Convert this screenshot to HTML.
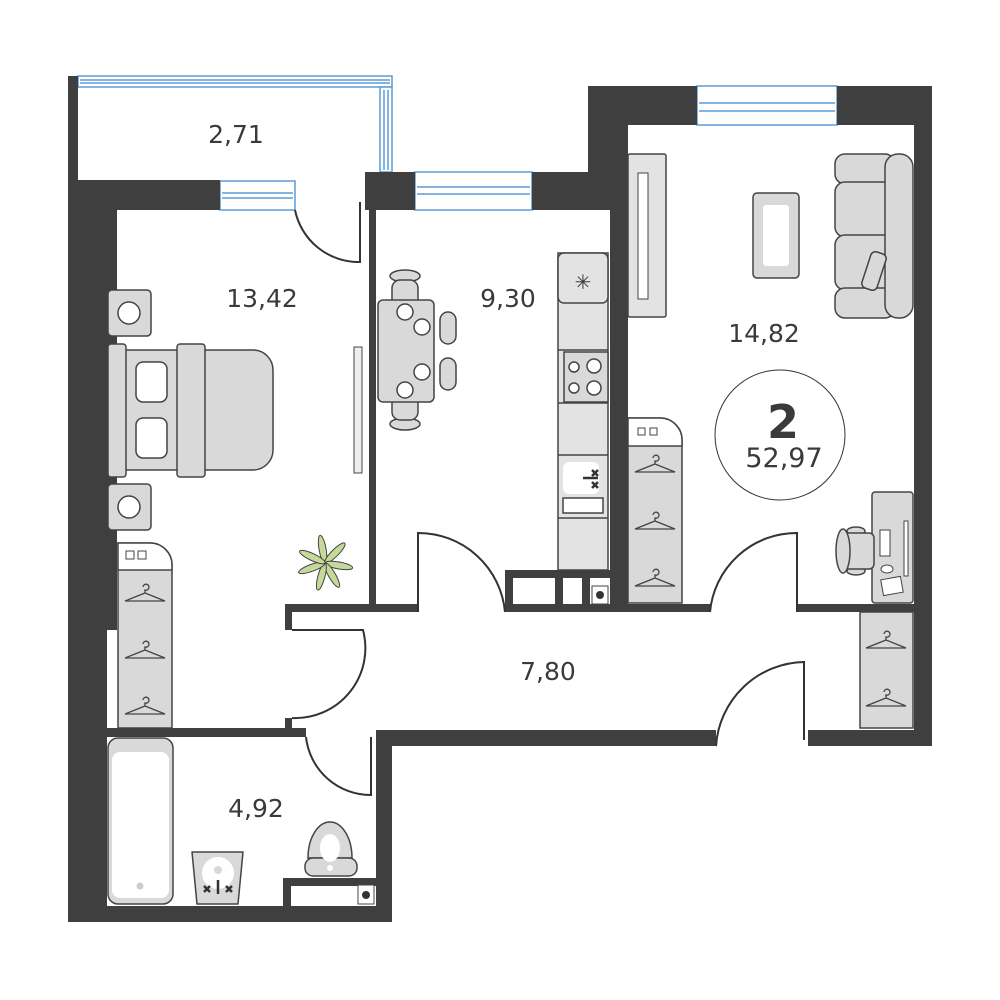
<!DOCTYPE html>
<html><head><meta charset="utf-8"><style>
html,body{margin:0;padding:0;background:#fff}
svg{display:block}
text{font-family:"DejaVu Sans","Liberation Sans",sans-serif;fill:#3a3a3a}
</style></head><body>
<svg width="1000" height="1000" viewBox="0 0 1000 1000" xmlns="http://www.w3.org/2000/svg">
<defs>
<g id="hanger" fill="none" stroke="#444" stroke-width="1.3">
<path d="M-2,-8 a3,3 0 1 1 2,3 v3 M0,-2 l20,8 h-40 z"/>
</g>
<ellipse id="leaf" cx="0" cy="-14" rx="3.5" ry="14" fill="#c5d99a" stroke="#444" stroke-width="1"/>
</defs>
<!-- windows -->
<g fill="#fff" stroke="#5b9bd5" stroke-width="1.5">
<rect x="78" y="76" width="314" height="11"/>
<line x1="80" y1="80" x2="390" y2="80"/><line x1="80" y1="83" x2="390" y2="83"/>
<rect x="380" y="87" width="12" height="85"/>
<line x1="384" y1="90" x2="384" y2="170"/><line x1="388" y1="90" x2="388" y2="170"/>
<rect x="220" y="181" width="75" height="29"/>
<line x1="222" y1="193" x2="293" y2="193"/><line x1="222" y1="198" x2="293" y2="198"/>
<rect x="415" y="172" width="117" height="38"/>
<line x1="417" y1="187" x2="530" y2="187"/><line x1="417" y1="194" x2="530" y2="194"/>
<rect x="697" y="86" width="140" height="39"/>
<line x1="699" y1="103" x2="835" y2="103"/><line x1="699" y1="111" x2="835" y2="111"/>
</g>
<!-- walls -->
<g fill="#3f3f3f">
<rect x="68" y="76" width="10" height="110"/>
<rect x="68" y="180" width="152" height="30"/>
<rect x="68" y="180" width="49" height="450"/>
<rect x="68" y="620" width="39" height="302"/>
<rect x="68" y="906" width="324" height="16"/>
<rect x="365" y="172" width="50" height="38"/>
<rect x="532" y="172" width="78" height="38"/>
<rect x="588" y="86" width="40" height="124"/>
<rect x="588" y="86" width="109" height="39"/>
<rect x="837" y="86" width="95" height="39"/>
<rect x="914" y="86" width="18" height="660"/>
<rect x="369" y="210" width="7" height="400"/>
<rect x="610" y="172" width="18" height="440"/>
<rect x="285" y="604" width="133" height="8"/>
<rect x="285" y="604" width="7" height="26"/>
<rect x="285" y="718" width="7" height="12"/>
<rect x="505" y="604" width="205" height="8"/>
<rect x="797" y="604" width="117" height="8"/>
<rect x="505" y="570" width="105" height="8"/>
<rect x="505" y="570" width="8" height="42"/>
<rect x="555" y="570" width="8" height="42"/>
<rect x="582" y="570" width="8" height="42"/>
<rect x="107" y="728" width="199" height="9"/>
<rect x="376" y="730" width="340" height="16"/>
<rect x="808" y="730" width="124" height="16"/>
<rect x="376" y="730" width="16" height="192"/>
<rect x="283" y="878" width="93" height="8"/>
<rect x="283" y="878" width="8" height="28"/>
</g>
<rect x="592" y="586" width="16" height="18" fill="#fff" stroke="#444"/>
<circle cx="600" cy="595" r="4" fill="#333"/>
<rect x="358" y="885" width="16" height="19" fill="#fff" stroke="#444"/>
<circle cx="366" cy="895" r="4" fill="#333"/>
<!-- doors -->
<g fill="none" stroke="#333" stroke-width="2">
<path d="M295,210 A65,65 0 0 0 360,262 V202"/>
<path d="M292,630 H363 A70,70 0 0 1 292,718"/>
<path d="M306,737 A65,65 0 0 0 371,795 V737"/>
<path d="M418,612 V533 A87,87 0 0 1 505,612"/>
<path d="M710,612 A87,87 0 0 1 797,533 V612"/>
<path d="M716,746 A90,90 0 0 1 804,662 V740"/>
</g>
<!-- bedroom furniture -->
<g stroke="#444" stroke-width="1.5">
<rect x="108" y="290" width="43" height="46" rx="4" fill="#d9d9d9"/>
<circle cx="129" cy="313" r="11" fill="#fff"/>
<rect x="108" y="484" width="43" height="46" rx="4" fill="#d9d9d9"/>
<circle cx="129" cy="507" r="11" fill="#fff"/>
<path d="M108,350 H253 a20,20 0 0 1 20,20 V450 a20,20 0 0 1 -20,20 H108 Z" fill="#d9d9d9"/>
<rect x="108" y="344" width="18" height="133" rx="3" fill="#d9d9d9"/>
<rect x="177" y="344" width="28" height="133" rx="3" fill="#d9d9d9"/>
<rect x="136" y="362" width="31" height="40" rx="7" fill="#fff"/>
<rect x="136" y="418" width="31" height="40" rx="7" fill="#fff"/>
<path d="M118,543 H150 a22,22 0 0 1 22,22 V728 H118 Z" fill="#d9d9d9"/>
<path d="M118,570 V543 H150 a22,22 0 0 1 22,22 V570 Z" fill="#fff"/>
<rect x="126" y="551" width="8" height="8" fill="#fff" stroke-width="1"/>
<rect x="138" y="551" width="8" height="8" fill="#fff" stroke-width="1"/>
<rect x="354" y="347" width="8" height="126" fill="#eee" stroke-width="1"/>
</g>
<use href="#hanger" x="145" y="595"/><use href="#hanger" x="145" y="652"/><use href="#hanger" x="145" y="708"/>
<!-- plant -->
<g transform="translate(325,563)">
<circle r="8" fill="#333"/>
<use href="#leaf" transform="rotate(-10)"/><use href="#leaf" transform="rotate(45)"/>
<use href="#leaf" transform="rotate(100)"/><use href="#leaf" transform="rotate(150)"/>
<use href="#leaf" transform="rotate(195)"/><use href="#leaf" transform="rotate(250)"/>
<use href="#leaf" transform="rotate(295)"/>
</g>
<!-- kitchen -->
<g stroke="#444" stroke-width="1.5">
<ellipse cx="405" cy="276" rx="15" ry="6" fill="#d9d9d9"/>
<ellipse cx="405" cy="424" rx="15" ry="6" fill="#d9d9d9"/>
<rect x="392" y="280" width="26" height="140" rx="8" fill="#d9d9d9"/>
<rect x="440" y="312" width="16" height="32" rx="8" fill="#d9d9d9"/>
<rect x="440" y="358" width="16" height="32" rx="8" fill="#d9d9d9"/>
<rect x="378" y="300" width="56" height="102" rx="5" fill="#d9d9d9"/>
<circle cx="405" cy="312" r="8" fill="#fff"/><circle cx="422" cy="327" r="8" fill="#fff"/>
<circle cx="422" cy="372" r="8" fill="#fff"/><circle cx="405" cy="390" r="8" fill="#fff"/>
<rect x="558" y="253" width="50" height="317" fill="#e3e3e3"/>
<rect x="558" y="253" width="50" height="50" rx="6" fill="#e3e3e3"/>
<line x1="558" y1="350" x2="608" y2="350"/><line x1="558" y1="403" x2="608" y2="403"/>
<line x1="558" y1="455" x2="608" y2="455"/><line x1="558" y1="518" x2="608" y2="518"/>
<rect x="564" y="352" width="44" height="50" fill="#d9d9d9"/>
<circle cx="574" cy="367" r="5" fill="#fff"/><circle cx="594" cy="366" r="7" fill="#fff"/>
<circle cx="574" cy="388" r="5" fill="#fff"/><circle cx="594" cy="388" r="7" fill="#fff"/>
<rect x="563" y="498" width="40" height="15" fill="#fff"/>
<rect x="563" y="462" width="36" height="32" rx="6" fill="#fff" stroke="none"/>
</g>
<text x="583" y="289" font-size="20" text-anchor="middle">✳</text>
<path d="M583,478 H598 M592,470 l6,6 m0,-6 l-6,6 M592,482 l6,6 m0,-6 l-6,6" stroke="#333" stroke-width="2.5"/>
<!-- living -->
<g stroke="#444" stroke-width="1.5">
<rect x="628" y="154" width="38" height="163" rx="2" fill="#e3e3e3"/>
<rect x="638" y="173" width="10" height="126" fill="#fff" stroke-width="1"/>
<rect x="753" y="193" width="46" height="85" rx="4" fill="#d9d9d9"/>
<rect x="763" y="205" width="26" height="61" rx="3" fill="#fff" stroke="none"/>
<rect x="835" y="154" width="60" height="30" rx="10" fill="#d9d9d9"/>
<rect x="835" y="182" width="60" height="55" rx="10" fill="#d9d9d9"/>
<rect x="835" y="235" width="60" height="55" rx="10" fill="#d9d9d9"/>
<rect x="835" y="288" width="60" height="30" rx="10" fill="#d9d9d9"/>
<rect x="885" y="154" width="28" height="164" rx="13" fill="#d9d9d9"/>
<rect x="866" y="252" width="16" height="38" rx="5" fill="#d9d9d9" transform="rotate(18 874 271)"/>
<path d="M628,418 V603 H682 V440 a22,22 0 0 0 -22,-22 Z" fill="#d9d9d9"/>
<path d="M628,446 V418 H660 a22,22 0 0 1 22,22 V446 Z" fill="#fff"/>
<rect x="638" y="428" width="7" height="7" fill="#fff" stroke-width="1"/>
<rect x="650" y="428" width="7" height="7" fill="#fff" stroke-width="1"/>
<rect x="872" y="492" width="41" height="111" rx="3" fill="#d9d9d9"/>
<rect x="880" y="530" width="10" height="26" fill="#fff" stroke-width="1"/>
<rect x="904" y="521" width="4" height="55" fill="#fff" stroke-width="1"/>
<ellipse cx="887" cy="569" rx="6" ry="4" fill="#fff" stroke-width="1"/>
<rect x="882" y="578" width="20" height="16" fill="#fff" stroke-width="1" transform="rotate(-10 892 586)"/>
<ellipse cx="856" cy="531" rx="9" ry="4" fill="#d9d9d9"/>
<ellipse cx="856" cy="571" rx="9" ry="4" fill="#d9d9d9"/>
<rect x="842" y="533" width="32" height="36" rx="5" fill="#d9d9d9"/>
<ellipse cx="843" cy="551" rx="7" ry="22" fill="#d9d9d9"/>
<rect x="860" y="612" width="53" height="116" fill="#d9d9d9"/>
<circle cx="780" cy="435" r="65" fill="none" stroke="#333" stroke-width="1"/>
</g>
<use href="#hanger" x="655" y="466"/><use href="#hanger" x="655" y="523"/><use href="#hanger" x="655" y="580"/>
<use href="#hanger" x="886" y="642"/><use href="#hanger" x="886" y="700"/>
<!-- bathroom -->
<g stroke="#444" stroke-width="1.5">
<rect x="108" y="738" width="65" height="166" rx="10" fill="#d9d9d9"/>
<rect x="112" y="752" width="57" height="146" rx="8" fill="#fff" stroke="none"/>
<circle cx="140" cy="886" r="3.5" fill="#ccc" stroke="none"/>
<path d="M192,852 H243 L238,904 H197 Z" fill="#d9d9d9" stroke-linejoin="round"/>
<circle cx="218" cy="873" r="16" fill="#fff" stroke="none"/>
<circle cx="218" cy="870" r="4" fill="#d9d9d9" stroke="none"/>
<path d="M308,858 a22,36 0 0 1 44,0 Z" fill="#d9d9d9"/>
<rect x="305" y="858" width="52" height="18" rx="8" fill="#d9d9d9"/>
<circle cx="330" cy="868" r="3" fill="#fff" stroke="none"/>
<ellipse cx="330" cy="848" rx="10" ry="14" fill="#fff" stroke="none"/>
</g>
<path d="M218,880 V894 M204,886 l6,6 m0,-6 l-6,6 M226,886 l6,6 m0,-6 l-6,6" stroke="#333" stroke-width="2.5"/>
<!-- labels -->
<g font-size="25">
<text x="236" y="143" text-anchor="middle">2,71</text>
<text x="262" y="307" text-anchor="middle">13,42</text>
<text x="508" y="307" text-anchor="middle">9,30</text>
<text x="764" y="342" text-anchor="middle">14,82</text>
<text x="548" y="680" text-anchor="middle">7,80</text>
<text x="256" y="817" text-anchor="middle">4,92</text>
<text x="784" y="467" text-anchor="middle" font-size="27">52,97</text>
</g>
<text x="783" y="438" text-anchor="middle" font-size="46" font-weight="bold">2</text>
</svg>
</body></html>
